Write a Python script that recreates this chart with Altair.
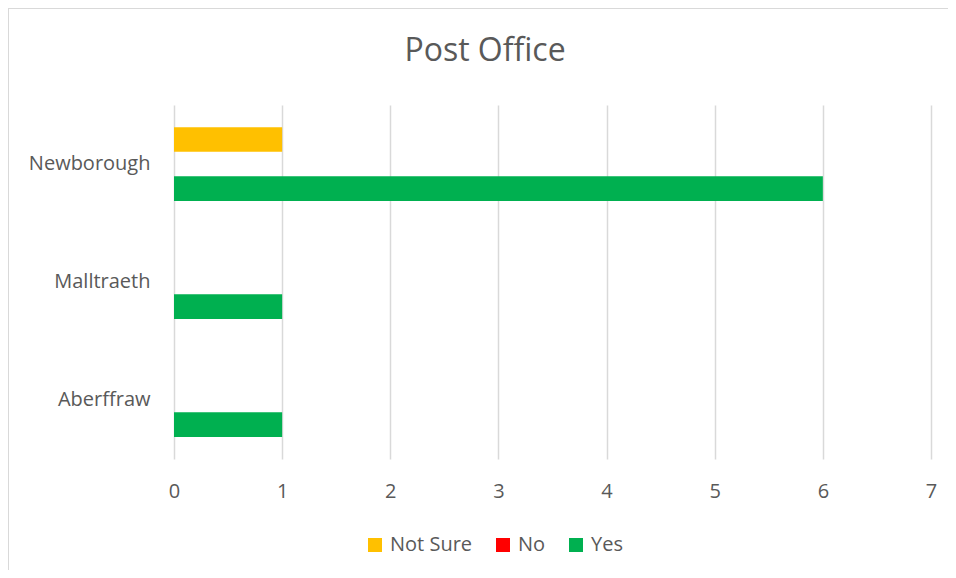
import altair as alt
import pandas as pd

title_text = ["Post Office"]
towns = ["Newborough", "Malltraeth", "Aberffraw"]
series = ["Not Sure", "No", "Yes"]
colors = ["#FFC000", "#FF0000", "#00B050"]
not_sure = [1, 0, 0]
no = [0, 0, 0]
yes = [6, 1, 1]
x_ticks = [0, 1, 2, 3, 4, 5, 6, 7]

rows = []
for i, t in enumerate(towns):
    for s, vals in zip(series, [not_sure, no, yes]):
        rows.append({"Town": t, "Answer": s, "Count": vals[i]})
df = pd.DataFrame(rows)

FONT = "Open Sans"
GREY = "#595959"

bars = alt.Chart(df).mark_bar().encode(
    y=alt.Y("Town:N", sort=towns,
            scale=alt.Scale(paddingInner=0, paddingOuter=0),
            axis=alt.Axis(title=None, ticks=False, domain=False, labelFontSize=20,
                          labelColor=GREY, labelFont=FONT, labelPadding=24)),
    yOffset=alt.YOffset("Answer:N", sort=series,
                        scale=alt.Scale(domain=series, paddingInner=0, paddingOuter=0.9)),
    x=alt.X("Count:Q", scale=alt.Scale(domain=[0, 7], nice=False),
            axis=alt.Axis(title=None, ticks=False, domain=False,
                          values=x_ticks, format="d", labelOverlap=False,
                          labelFlush=False,
                          labelFontSize=20, labelColor=GREY, labelFont=FONT,
                          labelPadding=22, grid=True, gridColor="#D9D9D9",
                          gridWidth=1.5)),
    color=alt.Color("Answer:N", sort=series,
                    scale=alt.Scale(domain=series, range=colors),
                    legend=alt.Legend(title=None, orient="none", direction="horizontal",
                                      legendX=191, legendY=430, padding=0,
                                      symbolType="square", symbolSize=196,
                                      symbolStrokeWidth=0, symbolOpacity=1,
                                      labelFontSize=20, labelColor=GREY, labelFont=FONT,
                                      labelOffset=5, columnPadding=20)),
)

frame = alt.Chart(alt.Data(values=[{}])).mark_rect(
    fill=None, stroke="#D9D9D9", strokeWidth=2
).encode(x=alt.value(-166), x2=alt.value(900), y=alt.value(-97), y2=alt.value(700))

title = alt.Chart(pd.DataFrame({"t": title_text})).mark_text(
    font=FONT, fontSize=32, color=GREY, align="center", baseline="alphabetic"
).encode(text="t:N", x=alt.value(311), y=alt.value(-44))

chart = alt.layer(frame, bars, title).properties(
    width=757, height=354,
    autosize=alt.AutoSizeParams(type="none"),
    padding={"left": 166, "top": 97, "right": 17, "bottom": 111},
    background="white",
).configure_view(stroke=None)

chart.save("out.html", embed_options={"renderer": "svg", "actions": False})
